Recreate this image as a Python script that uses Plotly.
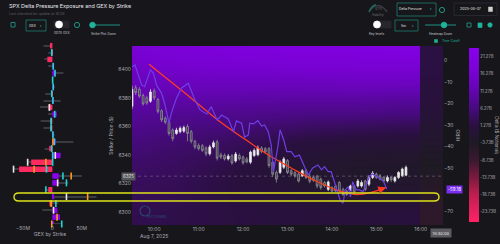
import plotly.graph_objects as go
import pandas as pd

# ---------------- data ----------------
DAY = "2025-08-07"
candle_times = [str(t) for t in pd.date_range(f"{DAY} 09:30", periods=75, freq="5min")]
opens = [6374.1, 6387.1, 6385.9, 6381.6, 6380.0, 6377.6, 6384.8, 6378.8, 6370.9, 6365.7,
         6362.9, 6357.4, 6355.0, 6356.2, 6356.6, 6360.0, 6356.2, 6349.5, 6346.6, 6346.4,
         6344.8, 6340.7, 6345.5, 6349.1, 6340.0, 6339.5, 6337.1, 6339.3, 6335.7, 6339.5,
         6338.4, 6337.1, 6334.8, 6339.5, 6340.0, 6344.8, 6344.3, 6344.3, 6334.8, 6327.6,
         6327.6, 6331.2, 6335.9, 6328.8, 6327.6, 6326.4, 6325.2, 6328.8, 6325.0, 6324.1,
         6325.0, 6322.9, 6320.5, 6315.7, 6316.9, 6318.1, 6320.5, 6315.7, 6314.5, 6315.7,
         6317.6, 6318.1, 6318.1, 6321.6, 6319.3, 6324.1, 6326.4, 6325.2, 6324.1, 6321.6,
         6324.1, 6321.6, 6324.1, 6325.2, 6325.7]
closes = [6385.9, 6383.6, 6381.2, 6375.7, 6376.4, 6384.1, 6380.0, 6370.5, 6364.5, 6362.9,
          6355.0, 6351.4, 6357.4, 6358.6, 6359.1, 6355.0, 6349.5, 6345.5, 6344.3, 6343.1,
          6340.7, 6345.5, 6348.4, 6337.6, 6338.4, 6337.1, 6339.1, 6334.3, 6340.5, 6337.1,
          6334.3, 6335.0, 6341.9, 6343.1, 6344.8, 6342.4, 6342.1, 6332.4, 6326.4, 6322.9,
          6334.8, 6337.1, 6327.6, 6326.4, 6325.2, 6321.6, 6328.8, 6324.1, 6321.4, 6322.1,
          6318.1, 6316.9, 6318.1, 6320.9, 6314.5, 6314.5, 6314.5, 6312.1, 6312.1, 6318.1,
          6313.8, 6321.6, 6320.5, 6315.7, 6324.1, 6327.1, 6324.1, 6322.9, 6321.6, 6324.1,
          6322.4, 6324.1, 6327.6, 6330.0, 6331.2]
highs = [6388.5, 6389.0, 6387.5, 6383.0, 6381.5, 6386.0, 6386.5, 6380.0, 6372.0, 6367.0,
         6364.0, 6358.5, 6359.0, 6360.0, 6360.5, 6361.5, 6357.5, 6350.5, 6348.0, 6347.5,
         6346.0, 6347.0, 6350.0, 6350.5, 6341.5, 6341.0, 6340.5, 6340.5, 6342.0, 6341.0,
         6339.5, 6338.5, 6343.0, 6344.5, 6346.5, 6346.0, 6345.5, 6345.5, 6335.5, 6329.0,
         6336.0, 6338.5, 6337.0, 6330.0, 6328.5, 6327.5, 6330.0, 6330.0, 6326.5, 6325.5,
         6326.0, 6324.0, 6321.5, 6322.0, 6318.0, 6319.5, 6321.5, 6317.0, 6315.5, 6319.0,
         6319.0, 6323.0, 6322.0, 6322.5, 6325.5, 6328.5, 6327.5, 6326.5, 6325.0, 6325.5,
         6325.0, 6325.0, 6328.5, 6331.0, 6332.5]
lows = [6372.0, 6382.0, 6380.0, 6374.5, 6375.0, 6376.5, 6378.5, 6369.0, 6363.0, 6361.5,
        6353.5, 6349.5, 6354.0, 6355.0, 6355.5, 6349.5, 6348.0, 6344.0, 6343.0, 6342.0,
        6339.0, 6339.5, 6344.5, 6336.0, 6337.0, 6336.0, 6336.0, 6333.0, 6334.5, 6336.0,
        6333.0, 6334.0, 6333.5, 6338.5, 6339.0, 6341.0, 6341.0, 6331.0, 6324.5, 6320.5,
        6326.5, 6330.0, 6326.5, 6325.0, 6324.0, 6320.5, 6324.5, 6323.0, 6320.0, 6321.0,
        6316.5, 6315.5, 6317.0, 6314.5, 6313.5, 6313.5, 6313.5, 6311.0, 6311.0, 6314.5,
        6312.5, 6317.0, 6317.0, 6314.5, 6318.0, 6323.0, 6323.0, 6322.0, 6320.5, 6320.5,
        6321.0, 6320.5, 6323.0, 6324.5, 6325.0]

hiro_times = ["09:30", "09:34", "09:43", "09:47", "09:55", "09:59", "10:03", "10:10", "10:14", "10:20",
              "10:23", "10:30", "10:37", "10:46", "10:55", "11:02", "11:11", "11:17", "11:25", "11:31",
              "11:40", "11:47", "11:51", "11:58", "12:02", "12:07", "12:09", "12:14", "12:20", "12:25",
              "12:29", "12:34", "12:38", "12:41", "12:47", "12:50", "12:55", "12:59", "13:05", "13:10",
              "13:16", "13:21", "13:28", "13:34", "13:41", "13:46", "13:50", "13:55", "13:59", "14:04",
              "14:08", "14:11", "14:15", "14:18", "14:22", "14:25", "14:28", "14:33", "14:37", "14:42",
              "14:46", "14:51", "14:55", "15:00", "15:05", "15:10", "15:14"]
hiro_values = [-2.8, -2.0, -11.3, -12.1, -4.3, -5.9, -11.3, -15.2, -19.8, -29.1,
               -24.5, -17.5, -12.7, -10.5, -18.3, -22.9, -24.8, -21.4, -27.6, -25.3,
               -27.1, -33.0, -28.0, -29.1, -35.5, -34.6, -29.1, -29.4, -27.9, -30.4,
               -29.9, -33.0, -39.2, -51.6, -40.0, -32.2, -36.9, -42.3, -42.3, -44.7,
               -43.9, -48.0, -53.2, -49.9, -48.5, -50.8, -49.3, -51.6, -51.6, -57.0,
               -61.7, -64.8, -66.3, -60.1, -58.6, -63.3, -56.3, -60.1, -60.1, -60.9,
               -57.8, -53.6, -52.7, -54.0, -54.7, -56.3, -59.7]
hiro_last_label = "-59.18"

# heatmap of delta notional (billions): rows = strikes, columns = times
hm_strikes = [6290, 6300, 6310, 6320, 6330, 6340, 6350, 6360, 6370, 6380, 6390, 6400, 6410, 6420]
hm_times = ["09:30", "10:30", "11:30", "12:30", "13:30", "14:30", "15:30", "16:00"]
hm_z = [
    [2.5, 2.0, 1.5, 1.0, 0.5, 0.5, 1.0, 1.0],
    [2.5, 2.0, 1.5, 1.0, 0.5, 0.0, 0.5, 0.5],
    [3.0, 2.5, 1.5, 0.5, -0.5, -1.0, -1.0, -1.0],
    [3.5, 3.0, 1.5, 0.0, -1.5, -2.0, -2.0, -2.0],
    [4.0, 3.5, 2.0, 0.0, -1.5, -2.5, -2.5, -2.5],
    [5.0, 4.0, 3.0, 1.0, -0.5, -1.5, -2.0, -2.0],
    [6.0, 5.0, 4.0, 2.5, 1.0, 0.5, 0.0, 0.0],
    [7.5, 6.5, 6.0, 5.0, 4.0, 3.5, 3.0, 3.0],
    [9.0, 8.5, 8.0, 7.5, 7.0, 7.0, 6.5, 6.5],
    [10.5, 10.5, 10.5, 10.0, 10.0, 10.0, 9.5, 9.5],
    [12.5, 13.0, 13.0, 13.0, 13.0, 13.5, 13.5, 13.5],
    [14.5, 15.5, 16.0, 16.0, 16.5, 16.5, 16.5, 16.5],
    [16.5, 17.5, 18.0, 18.5, 19.0, 19.0, 19.5, 19.5],
    [18.0, 19.0, 20.0, 20.5, 21.0, 21.0, 21.5, 21.5],
]
post_times = ["16:07", "16:23"]
post_z = [-6.5, -6.5, -6.0, -5.0, -4.0, -3.0, -2.0, -1.0, 0.0, 0.5, 1.0, 1.5, 1.5, 1.5]
cbar_ticks = [21.27, 16.27, 11.27, 6.27, 1.27, -3.73, -8.73, -13.73, -18.73, -23.73]

# GEX by strike (millions)
gex_strikes = [6420, 6415, 6410, 6405, 6400, 6395, 6390, 6385, 6380, 6375, 6370, 6365, 6360, 6355,
               6350, 6345, 6340, 6335, 6330, 6325, 6320, 6315, 6310, 6305, 6300, 6295, 6290]
gex_values = [-4, -1, -8.5, 2, 6, 1, 2, -2, 1.5, -7, 7.5, -4, -4, 2,
              6, -5.5, 14, -36, -56.5, 11, 10, -7, 3, -5, 8.5, 13, 2]
gex_range_lo = [-15, -7, -13.5, -7, 0, 0, 0, -12, -15, -21, -7, -20, -15, 0,
                0, -13, 0, -42, -66, 0, 0, -11, 0, -5, -17, 0, 0]
gex_range_hi = [0, 0, 0, 2, 19, 0, 4.5, 0, 14, 0, 7.5, 0, 0, 4,
                36, 0, 14, 0, 0, 50, 27, 0, 75, 10, 8.5, 13, 16]
cyan_strikes = [6415, 6405, 6400, 6395, 6390, 6385, 6380, 6370, 6365, 6360, 6355, 6350, 6345, 6340,
                6335, 6330, 6325, 6320, 6315, 6305, 6290]
cyan_values = [-1, 1.5, 4.5, 0.5, 1.5, -1, 1, 4, -2, -2, 1, 3.5, -1, 0.5,
               0.5, -10, 18, 24, -11, 6, 16]
orange_strikes = [6350, 6335, 6330, 6325, 6310, 6305, 6295, 6290]
orange_values = [1, -11, -31, 32, 60, -2, 8, -1]
white_strikes = [6375, 6340, 6335, 6330, 6320, 6310, 6300]
white_values = [-5, 5, -42, -66, 9, 24, 2]

# hand-drawn red trend arrow (time, price)
arrow_times = ["09:53", "10:41", "11:28", "12:09", "12:36", "13:10", "13:39", "14:10", "14:33", "14:53", "15:13"]
arrow_prices = [6403.6, 6383.6, 6363.6, 6348.6, 6339.3, 6329.3, 6321.4, 6314.6, 6312.1, 6313.6, 6317.1]

x_ticks = ["10:00", "11:00", "12:00", "13:00", "14:00", "15:00", "16:00"]
price_ticks = [6300, 6320, 6340, 6360, 6380, 6400]
hiro_ticks = [0, -10, -20, -30, -40, -50, -70]
level_price = 6325
box_lo, box_hi = 6307.6, 6313.2

# ---------------- figure ----------------
W, H = 500, 244
def px(x): return x / W
def py(y): return 1 - y / H
def T(hm): return f"{DAY} {hm}"

BG = "#17171b"
TEAL = "#1fb39c"
FONT = "Inter, Roboto, sans-serif"

cs = [[0.0, "#ff2266"], [0.158, "#c01e50"], [0.257, "#7a1a3e"], [0.356, "#3a1830"],
      [0.455, "#1e1a24"], [0.554, "#2a1040"], [0.653, "#480a80"], [0.752, "#6205b0"],
      [0.851, "#7602d0"], [1.0, "#8a00ee"]]

fig = go.Figure()
fig.add_trace(go.Heatmap(x=[T(t) for t in hm_times], y=hm_strikes, z=hm_z, zsmooth="best",
                         coloraxis="coloraxis", xaxis="x", yaxis="y", hoverinfo="skip"))
fig.add_trace(go.Heatmap(x=[T(t) for t in post_times], y=hm_strikes, z=[[v, v] for v in post_z],
                         zsmooth="best", coloraxis="coloraxis", xaxis="x", yaxis="y", hoverinfo="skip"))

fig.add_trace(go.Candlestick(x=candle_times, open=opens, high=highs, low=lows, close=closes,
                             increasing=dict(line=dict(color="#e6e6e6", width=0.8), fillcolor="#f4f4f4"),
                             decreasing=dict(line=dict(color="#8e8e96", width=0.8), fillcolor="#3a3a42"),
                             whiskerwidth=0, xaxis="x", yaxis="y", showlegend=False))

fig.add_trace(go.Scatter(x=[T(t) for t in hiro_times], y=hiro_values, mode="lines",
                         line=dict(color="#6e3ee6", width=1.2), xaxis="x", yaxis="y3", showlegend=False))

fig.add_trace(go.Scatter(x=[T(t) for t in arrow_times], y=arrow_prices, mode="lines",
                         line=dict(color="#ff3b1c", width=1.3, shape="spline"), xaxis="x", yaxis="y",
                         showlegend=False))

# GEX panel
fig.add_trace(go.Bar(y=gex_strikes, x=[h - l for h, l in zip(gex_range_hi, gex_range_lo)], base=gex_range_lo,
                     orientation="h", width=0.8, marker=dict(color="#3a3a42", line=dict(width=0)),
                     xaxis="x2", yaxis="y2", showlegend=False, cliponaxis=False))
fig.add_trace(go.Bar(y=gex_strikes, x=gex_values, orientation="h", width=4.0,
                     marker=dict(color=["#ff2a5f" if v < 0 else "#8a00f0" for v in gex_values], line=dict(width=0)),
                     xaxis="x2", yaxis="y2", showlegend=False, cliponaxis=False))
for s, v, c in [(cyan_strikes, cyan_values, "#22d3d3"), (orange_strikes, orange_values, "#ff9a1a"),
                (white_strikes, white_values, "#e8e8e8")]:
    fig.add_trace(go.Scatter(x=v, y=s, mode="markers", xaxis="x2", yaxis="y2", showlegend=False,
                             marker=dict(symbol="line-ns", size=5, line=dict(color=c, width=1.6)),
                             cliponaxis=False))

tickfont = dict(size=5, color="#a8a8b0", family=FONT)
fig.update_layout(
    width=W, height=H, margin=dict(l=0, r=0, t=0, b=0, autoexpand=False),
    paper_bgcolor=BG, plot_bgcolor=BG, showlegend=False, barmode="overlay",
    font=dict(family=FONT, color="#c8c8d0", size=5),
    xaxis=dict(domain=[px(132), px(443)], type="date", range=[T("09:30"), T("16:30")],
               tickvals=[T(t) for t in x_ticks],
               ticktext=[x_ticks[0] + "<br>Aug 7, 2025"] + x_ticks[1:],
               tickfont=tickfont, showgrid=False, zeroline=False, showline=False, ticks="",
               rangeslider=dict(visible=False), anchor="y"),
    yaxis=dict(domain=[py(225), py(46)], range=[6290.7, 6416.4], tickvals=price_ticks,
               tickfont=tickfont, showgrid=False, zeroline=False, ticks="", anchor="x",
               title=dict(text="Strike / Price ($)", font=dict(size=5, color="#a8a8b0"), standoff=4)),
    yaxis3=dict(overlaying="y", side="right", anchor="x", range=[-76.4, 6.8], tickvals=hiro_ticks,
                tickfont=tickfont, showgrid=False, zeroline=False, ticks="",
                title=dict(text="HIRO", font=dict(size=5, color="#a8a8b0"), standoff=3)),
    xaxis2=dict(domain=[0, px(100)], range=[-89, 81], anchor="y2", tickvals=[-50, 0, 50],
                ticktext=["−50M", "0", "50M"], tickfont=tickfont, showgrid=False, zeroline=False, ticks="",
                title=dict(text="GEX by Strike", font=dict(size=5, color="#a8a8b0"), standoff=2)),
    yaxis2=dict(domain=[py(224), py(42)], range=[6290, 6422.7], anchor="x2", showticklabels=False,
                showgrid=False, zeroline=False, ticks=""),
    coloraxis=dict(colorscale=cs, cmin=-26.7, cmax=23.8,
                   colorbar=dict(x=px(469), xanchor="left", xpad=0, ypad=0, y=py(135), yanchor="middle",
                                 len=174 / H, lenmode="fraction", thickness=10, outlinewidth=0,
                                 tickvals=cbar_ticks, ticktext=[f"{v:.2f}B" for v in cbar_ticks],
                                 tickfont=dict(size=4.2, color="#b0b0b8", family=FONT), ticks="")),
)

shapes = []
ann = []
# colorbar title
ann.append(dict(xref="paper", yref="paper", x=px(496.8), y=py(135), text="Delta ($ Notional)", showarrow=False,
                textangle=90, xanchor="center", yanchor="middle", font=dict(size=4.6, color="#b0b0b8", family=FONT)))
# level dotted line and its labels
shapes.append(dict(type="line", xref="x domain", yref="y", x0=0, x1=1, y0=level_price, y1=level_price,
                   line=dict(color="rgba(170,170,180,0.45)", width=0.8, dash="dot")))
ann.append(dict(xref="paper", yref="y", x=px(121), y=level_price, text=str(level_price), showarrow=False,
                bgcolor="#55555c", font=dict(size=4.5, color="#e0e0e0"), borderpad=1))
ann.append(dict(xref="paper", yref="y3", x=px(446), y=hiro_values[-1], xanchor="left", text=hiro_last_label,
                showarrow=False, bgcolor="#7b2df0", font=dict(size=4.5, color="#ffffff"), borderpad=1))
# arrow head
ann.append(dict(xref="x", yref="y", x=T(arrow_times[-1]), y=arrow_prices[-1], ax=-8, ay=3,
                showarrow=True, arrowhead=2, arrowsize=1.2, arrowwidth=1.3, arrowcolor="#ff3b1c", text=""))
# yellow highlight box (rounded)
x0, x1, r = px(14), px(439), px(5)
ym = (box_lo + box_hi) / 2
shapes.append(dict(type="path", xref="paper", yref="y", layer="above",
                   path=(f"M {x0 + r},{box_hi} L {x1 - r},{box_hi} Q {x1},{box_hi} {x1},{ym} "
                         f"Q {x1},{box_lo} {x1 - r},{box_lo} L {x0 + r},{box_lo} Q {x0},{box_lo} {x0},{ym} "
                         f"Q {x0},{box_hi} {x0 + r},{box_hi} Z"),
                   line=dict(color="#dde21a", width=1.4)))
# watermark
shapes.append(dict(type="circle", xref="paper", yref="paper", x0=px(140), x1=px(150), y0=py(216), y1=py(206),
                   line=dict(color="#28456e", width=1.2), fillcolor="rgba(0,0,0,0)"))
ann.append(dict(xref="paper", yref="paper", x=px(145), y=py(221), text="SPOTGAMMA", showarrow=False,
                font=dict(size=3, color="#2d4c78")))

# ---- header texts ----
def text(x, y, s, size=3.6, color="#b8b8c0", anchor="center"):
    ann.append(dict(xref="paper", yref="paper", x=px(x), y=py(y), text=s, showarrow=False,
                    xanchor=anchor, yanchor="middle", font=dict(size=size, color=color, family=FONT)))

def rect(x0, y0, x1, y1, line="#1d7f70", fill=BG, w=0.8):
    shapes.append(dict(type="rect", xref="paper", yref="paper", x0=px(x0), x1=px(x1), y0=py(y1), y1=py(y0),
                       line=dict(color=line, width=w), fillcolor=fill))

def circ(cx, cy, rr, line=TEAL, fill="rgba(0,0,0,0)", w=0.8):
    shapes.append(dict(type="circle", xref="paper", yref="paper", x0=px(cx - rr), x1=px(cx + rr),
                       y0=py(cy + rr), y1=py(cy - rr), line=dict(color=line, width=w), fillcolor=fill))

def hline(x0, x1, y, color=TEAL, w=1):
    shapes.append(dict(type="line", xref="paper", yref="paper", x0=px(x0), x1=px(x1), y0=py(y), y1=py(y),
                       line=dict(color=color, width=w)))

text(7, 6.5, "SPX Delta Pressure Exposure and GEX by Strike", size=5.4, color="#e8e8ee", anchor="left")
text(7, 14, "Last checked for update at 16:28", size=3.6, color="#5e5e68", anchor="left")

# left controls
rect(11, 22.5, 15, 27, line=TEAL, fill=BG, w=0.7)
rect(26, 20, 46, 31)
text(33, 25.5, "GEX", size=3.4, color="#e0e0e0")
text(41, 25.5, "▾", size=3.4, color=TEAL)
rect(54, 21, 69, 28, line="#26262c", fill="#26262c")
circ(59, 24.5, 3.5, line="#ffffff", fill="#ffffff")
text(62, 33, "0DTE GEX", size=3.2, color="#c8c8d0")
circ(77, 25, 2.6)
hline(92, 120, 25, w=0.8)
circ(92.5, 25, 2.8, line=TEAL, fill=TEAL)
text(103, 34, "Strike Plot Zoom", size=3.2, color="#c8c8d0")

# right controls
shapes.append(dict(type="path", xref="paper", yref="paper",
                   path=f"M {px(369)},{py(12)} Q {px(378)},{py(-1)} {px(387)},{py(12)}",
                   line=dict(color="#3a3a42", width=1.4)))
shapes.append(dict(type="path", xref="paper", yref="paper",
                   path=f"M {px(369)},{py(12)} Q {px(371)},{py(6)} {px(376)},{py(4.6)}",
                   line=dict(color="#1d6f63", width=1.4)))
text(378, 9.5, "47%", size=3.3, color="#6a6a74")
text(378, 15, "Stability", size=3.1, color="#6a6a74")
rect(397, 3, 436, 16)
text(410, 9.5, "Delta Pressure", size=3.3, color="#e0e0e0")
text(431, 9.5, "▾", size=3.4, color=TEAL)
circ(442, 10, 2.6)
rect(454, 3, 497, 15.5, line="#2c2c33", fill=BG)
text(470, 9.3, "2025-08-07", size=3.6, color="#e0e0e0")
rect(488.5, 7, 492.5, 11.5, line="#d0d0d0", fill="#d0d0d0", w=0.5)
rect(378, 21, 391, 28, line="#26262c", fill="#26262c")
circ(377, 24.5, 3.5, line="#ffffff", fill="#ffffff")
text(376, 34, "Key levels", size=3.2, color="#c8c8d0")
rect(395, 20, 418, 31)
text(403, 25.5, "5m", size=3.4, color="#e0e0e0")
text(413, 25.5, "▾", size=3.4, color=TEAL)
hline(425, 456, 25, w=0.8)
circ(444, 25, 2.8, line=TEAL, fill=TEAL)
text(440, 34, "Heatmap Zoom", size=3.2, color="#c8c8d0")
rect(467, 23, 471, 27, line=TEAL, w=0.7)
rect(478, 23, 482, 27.5, line=TEAL, fill=TEAL, w=0.7)
circ(490, 25, 2.2, line=TEAL, fill=TEAL)
rect(434.5, 39.5, 437.5, 42.5, line=TEAL, fill=TEAL, w=0.5)
text(440, 41, "Time Cutoff", size=3.2, color=TEAL, anchor="left")

# crosshair time label bottom right
ann.append(dict(xref="paper", yref="paper", x=px(452), y=py(237.5), text="16:40:00", showarrow=False,
                bgcolor="#5a5a60", font=dict(size=4, color="#e8e8e8"), borderpad=1.5))

fig.update_layout(shapes=shapes, annotations=ann)
fig.write_html("out.html")
